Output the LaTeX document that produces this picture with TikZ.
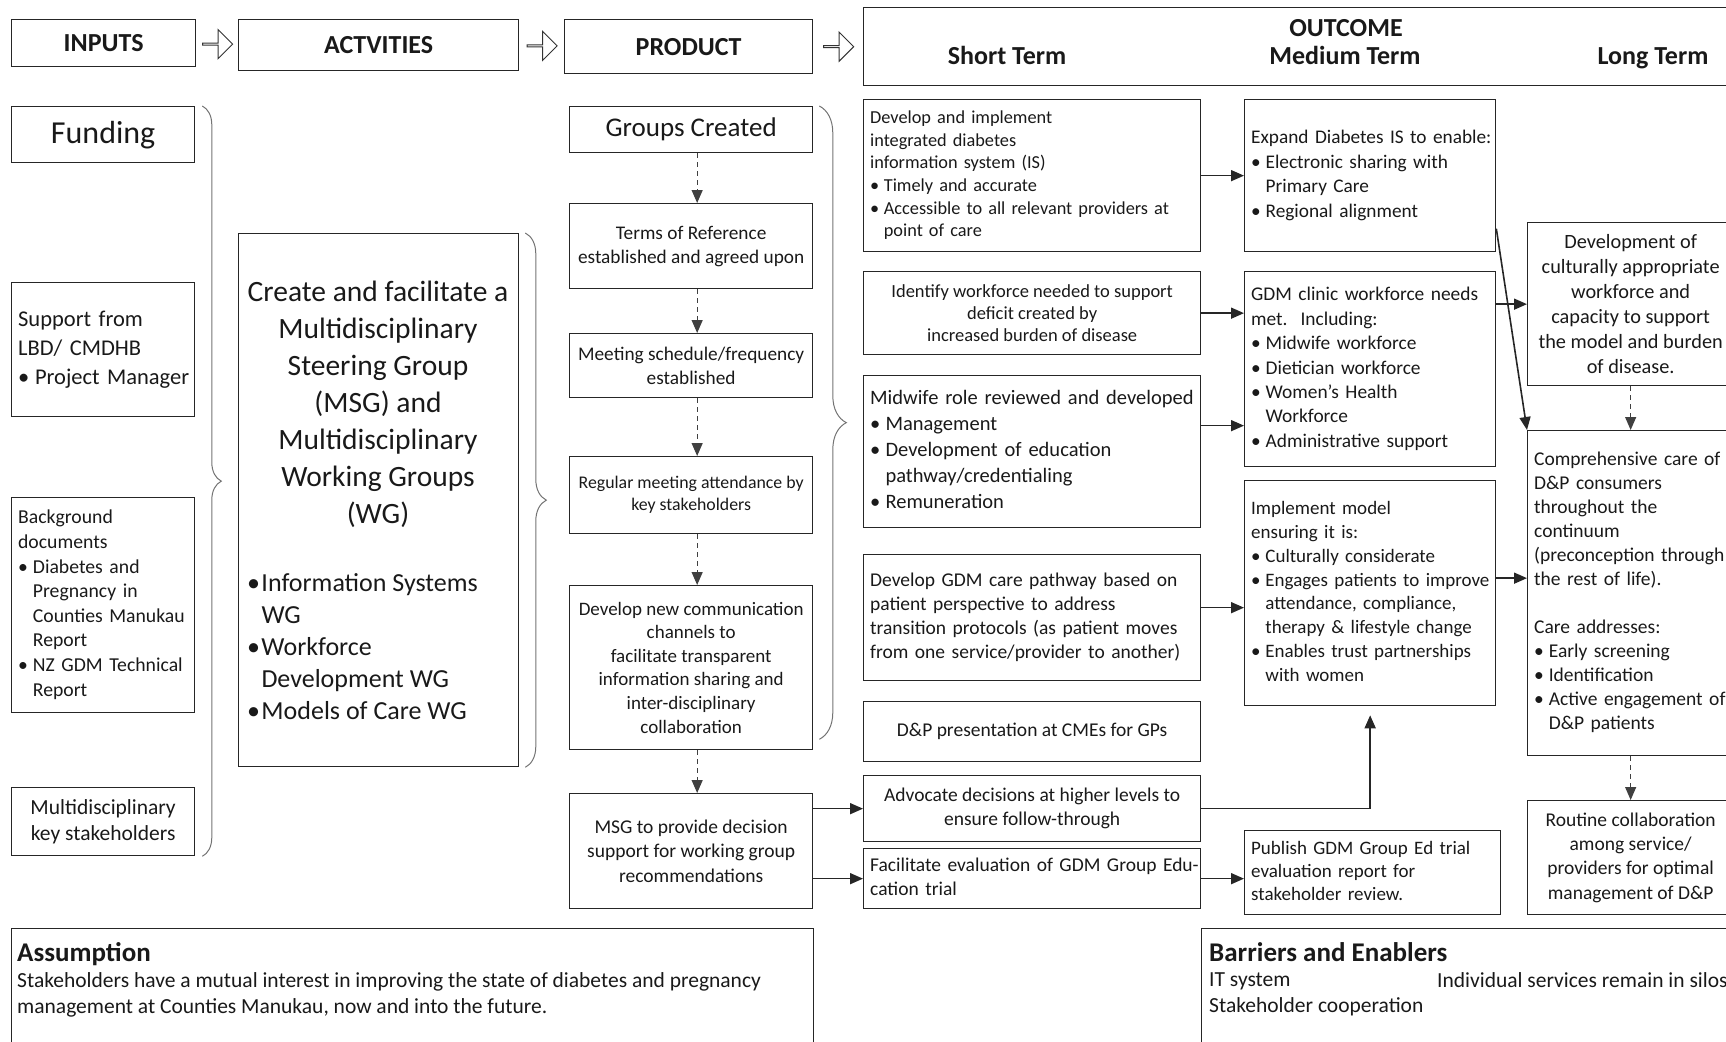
\documentclass[tikz,border=0pt]{standalone}
\usepackage{fontspec}
\setmainfont{Carlito}
\usetikzlibrary{arrows.meta, calc, positioning, shapes.arrows, decorations.pathreplacing}
\newcommand{\fs}[2]{\fontsize{#1}{#2}\selectfont}
\newcommand{\bul}[1][0.75em]{\makebox[#1][l]{\textbullet}}
\newcommand{\ind}[1][0.75em]{\hspace*{#1}}
\newcommand{\lns}[1]{\begin{tabular}{@{}l@{}}#1\end{tabular}}

\begin{document}
\begin{tikzpicture}[x=1pt, y=-1pt, >={Triangle[length=13pt,width=11pt]},
  box/.style={draw=black!85, line width=1.3pt, anchor=north west, inner xsep=6.5pt, inner ysep=2pt, text=black!90},
  lbox/.style={box, align=left},
  cbox/.style={box, align=center},
  headbox/.style={box, font=\fs{26}{30}\bfseries},
  head/.style={anchor=base, font=\fs{26}{30}\bfseries, text=black!90},
  conn/.style={->, line width=1.6pt, draw=black!85},
  dconn/.style={->, line width=1.2pt, draw=black!75, dash pattern=on 5pt off 4pt},
  brc/.style={decorate, decoration={brace, amplitude=#1}, draw=black!55, line width=1pt},
  openarr/.style={single arrow, draw=black!80, line width=1pt, minimum height=30pt, minimum width=29pt, single arrow head extend=7pt, inner sep=0pt}]
\useasboundingbox (0,0) rectangle (1726,1041);

\node[headbox, minimum width=184pt, minimum height=47pt] (inp) at (11,19) {INPUTS};
\node[headbox, minimum width=280pt, minimum height=51pt] (act) at (238,19) {ACTVITIES};
\node[headbox, minimum width=248pt, minimum height=54pt] (prod) at (564,19) {PRODUCT};
\node[box, minimum width=880pt, minimum height=78pt] (outc) at (863,7) {};
\node[head] (outt) at (1346,37) {OUTCOME};
\node[head] (st) at (1007,64) {Short Term};
\node[head] (mt) at (1345,64) {Medium Term};
\node[head] (lt) at (1653,64) {Long Term};
\foreach \a/\b/\n in {inp/act/1, act/prod/2, prod/outc/3}
  \node[openarr] (arr\n) at ($(\a.east)!.5!(\b.west)$) {};

\node[cbox, minimum width=183pt, minimum height=56pt, font=\fs{32}{38}] (fund) at (11,106) {Funding};
\node[lbox, text width=170pt, minimum height=134pt, font=\fs{22.5}{29}] (supp) at (11,282) {\lns{Support from\\LBD/ CMDHB\\\bul Project Manager}};
\node[lbox, text width=170pt, minimum height=215pt, font=\fs{19.7}{24.6}] (bgd) at (11,497) {\lns{Background\\documents\\\bul Diabetes and\\\ind Pregnancy in\\\ind Counties Manukau\\\ind Report\\\bul NZ GDM Technical\\\ind Report}};
\node[cbox, minimum width=183pt, minimum height=68pt, font=\fs{21.5}{26.4}] (mkey) at (11,787) {Multidisciplinary\\key stakeholders};
\draw[brc=19pt] ([xshift=7pt]fund.north east) -- ([xshift=7pt]mkey.south east);

\node[box, minimum width=280pt, minimum height=533pt] (actb) at (238,233) {};
\node[align=center, font=\fs{29.5}{37}, text=black!90] (actt) at (378,404) {Create and facilitate a\\Multidisciplinary\\Steering Group\\(MSG) and\\Multidisciplinary\\Working Groups\\(WG)};
\node[anchor=west, align=left, inner sep=0pt, font=\fs{26}{32}, text=black!90] (actw) at (247,647) {\bul[0.55em]Information Systems\\\ind[0.55em]WG\\\bul[0.55em]Workforce\\\ind[0.55em]Development WG\\\bul[0.55em]Models of Care WG};
\draw[brc=21pt] ([xshift=6pt]actb.north east) -- ([xshift=6pt]actb.south east);

\node[cbox, minimum width=243pt, minimum height=46pt, font=\fs{27}{32}] (grp) at (569,106) {Groups Created};
\node[cbox, minimum width=243pt, minimum height=85pt, font=\fs{19.3}{24}] (tor) at (569,203) {Terms of Reference\\established and agreed upon};
\node[cbox, minimum width=243pt, minimum height=64pt, font=\fs{19.3}{24}] (mtg) at (569,333) {Meeting schedule/frequency\\established};
\node[cbox, minimum width=243pt, minimum height=77pt, font=\fs{17.8}{22}] (reg) at (569,456) {Regular meeting attendance by\\key stakeholders};
\node[cbox, minimum width=243pt, minimum height=164pt, font=\fs{19}{23.6}] (comm) at (569,585) {Develop new communication\\channels to\\facilitate transparent\\information sharing and\\inter-disciplinary\\collaboration};
\node[cbox, minimum width=243pt, minimum height=115pt, font=\fs{19.5}{24.2}] (msg) at (569,793) {MSG to provide decision\\support for working group\\recommendations};
\foreach \a/\b in {grp/tor, tor/mtg, mtg/reg, reg/comm, comm/msg}
  \draw[dconn] ([xshift=6pt]\a.south) -- ([xshift=6pt]\b.north);
\draw[brc=27pt] ([xshift=6pt]grp.north east) -- ([xshift=6pt,yshift=11pt]comm.south east);

\node[lbox, text width=324pt, minimum height=152pt, font=\fs{18.3}{22.7}] (devis) at (863,99) {\lns{Develop and implement\\integrated diabetes\\information system (IS)\\\bul Timely and accurate\\\bul Accessible to all relevant providers at\\\ind point of care}};
\node[cbox, minimum width=337pt, minimum height=83pt, font=\fs{18.5}{22}] (ident) at (863,271) {Identify workforce needed to support\\deficit created by\\increased burden of disease};
\node[lbox, text width=324pt, minimum height=152pt, font=\fs{20.5}{26}] (midw) at (863,375) {\lns{Midwife role reviewed and developed\\\bul Management\\\bul Development of education\\\ind pathway/credentialing\\\bul Remuneration}};
\node[lbox, text width=324pt, minimum height=126pt, font=\fs{19.5}{23.9}] (gdmp) at (863,554) {\lns{Develop GDM care pathway based on\\patient perspective to address\\transition protocols (as patient moves\\from one service/provider to another)}};
\node[cbox, minimum width=337pt, minimum height=60pt, font=\fs{19.5}{24}] (dpp) at (863,701) {D\&P presentation at CMEs for GPs};
\node[cbox, minimum width=337pt, minimum height=66pt, font=\fs{19.5}{24.2}] (adv) at (863,775) {Advocate decisions at higher levels to\\ensure follow-through};
\node[lbox, text width=324pt, minimum height=60pt, font=\fs{19.5}{24.2}] (facil) at (863,848) {\lns{Facilitate evaluation of GDM Group Edu-\\cation trial}};

\node[lbox, text width=238pt, minimum height=152pt, font=\fs{19.3}{24.5}] (expis) at (1244,99) {\lns{Expand Diabetes IS to enable:\\\bul Electronic sharing with\\\ind Primary Care\\\bul Regional alignment}};
\node[lbox, text width=238pt, minimum height=195pt, font=\fs{19.4}{24.4}] (gdmc) at (1244,271) {\lns{GDM clinic workforce needs\\met.\ \ Including:\\\bul Midwife workforce\\\bul Dietician workforce\\\bul Women’s Health\\\ind Workforce\\\bul Administrative support}};
\node[lbox, text width=238pt, minimum height=225pt, font=\fs{19}{23.8}] (impl) at (1244,480) {\lns{Implement model\\ensuring it is:\\\bul Culturally considerate\\\bul Engages patients to improve\\\ind attendance, compliance,\\\ind therapy \& lifestyle change\\\bul Enables trust partnerships\\\ind with women}};
\node[lbox, text width=243pt, minimum height=84pt, font=\fs{19}{23.1}] (pub) at (1244,830) {\lns{Publish GDM Group Ed trial\\evaluation report for\\stakeholder review.}};

\node[cbox, minimum width=206pt, minimum height=163pt, font=\fs{20.3}{24.9}] (devc) at (1527,222) {Development of\\culturally appropriate\\workforce and\\capacity to support\\the model and burden\\of disease.};
\node[lbox, text width=193pt, minimum height=325pt, font=\fs{19.5}{24}] (comp) at (1527,430) {\lns{Comprehensive care of\\D\&P consumers\\throughout the\\continuum\\(preconception through\\the rest of life).\\[24pt]Care addresses:\\\bul Early screening\\\bul Identification\\\bul Active engagement of\\\ind D\&P patients}};
\node[cbox, minimum width=206pt, minimum height=114pt, font=\fs{19.5}{24.2}] (rout) at (1527,800) {Routine collaboration\\among service/\\providers for optimal\\management of D\&P};

\draw[conn] (devis) -- (expis);
\draw[conn] (ident.east) -- (ident.east -| gdmc.west);
\draw[conn] ([yshift=26pt]midw.east) -- ([yshift=26pt]midw.east -| gdmc.west);
\draw[conn] ([yshift=10pt]gdmp.east) -- ([yshift=10pt]gdmp.east -| impl.west);
\draw[conn] ([yshift=-53pt]expis.east) -- (comp.north west);
\draw[conn] (devc.west -| gdmc.east) -- (devc.west);
\draw[conn] ([yshift=15pt]impl.east) -- ([yshift=15pt]impl.east -| comp.west);
\draw[dconn] (devc) -- (comp);
\draw[dconn] (comp) -- (rout);
\draw[conn] (msg.east |- adv.west) -- (adv.west);
\draw[conn] (msg.east |- facil.west) -- (facil.west);
\draw[conn] (adv.east) -| ([yshift=-9pt]impl.south);
\draw[conn] (facil.east) -- (facil.east -| pub.west);

\node[box, minimum width=802pt, minimum height=140pt] (assum) at (11,928) {};
\node[anchor=base west, inner sep=0pt, font=\fs{27}{32}\bfseries, text=black!90] (asst) at (17,961) {Assumption};
\node[anchor=north west, inner sep=0pt, align=left, font=\fs{21.5}{26.4}, text=black!90] (astx) at (17,972) {Stakeholders have a mutual interest in improving the state of diabetes and pregnancy\\management at Counties Manukau, now and into the future.};
\node[box, minimum width=540pt, minimum height=140pt] (barr) at (1201,928) {};
\node[anchor=base west, inner sep=0pt, font=\fs{27}{32}\bfseries, text=black!90] (bart) at (1209,961) {Barriers and Enablers};
\node[anchor=north west, inner sep=0pt, align=left, font=\fs{21.5}{26.4}, text=black!90] (barx) at (1209,972) {IT system\\Stakeholder cooperation};
\node[anchor=north west, inner sep=0pt, font=\fs{21.5}{26.4}, text=black!90] (bars) at (1437,972) {Individual services remain in silos};
\end{tikzpicture}
\end{document}
